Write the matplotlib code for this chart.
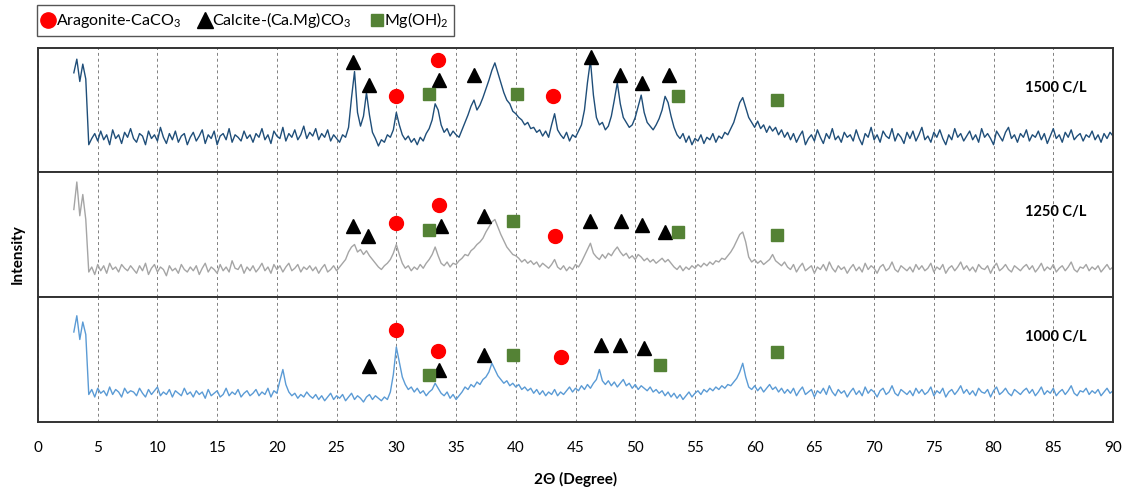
import matplotlib.pyplot as plt
import numpy as np
from matplotlib.lines import Line2D

plt.rcParams['font.family'] = ['Lato', 'DejaVu Sans']
plt.rcParams['mathtext.fontset'] = 'custom'
plt.rcParams['mathtext.rm'] = 'Lato'

# 2theta sampling of the hand-read patterns: 3.0 .. 90.0 every 0.25 deg
x_start = 3.0
x_step = 0.25

# 1500 C/L (panel units 0-100)
i_1500 = [
    80, 91, 73, 87, 75, 22, 27, 31, 25, 33, 26, 30, 22, 34, 27, 30, 23, 32, 28, 35,
    27, 24, 31, 29, 22, 33, 27, 30, 25, 36, 28, 23, 31, 26, 33, 24, 29, 31, 22, 28,
    32, 25, 29, 34, 23, 30, 27, 33, 22, 29, 31, 26, 35, 24, 30, 28, 25, 33, 27, 30,
    24, 31, 28, 35, 26, 30, 23, 33, 29, 27, 36, 25, 31, 28, 34, 26, 30, 37, 27, 32,
    29, 35, 26, 31, 28, 34, 25, 30, 27, 24, 30, 28, 36, 60, 81, 48, 37, 45, 64, 46,
    32, 27, 21, 26, 24, 30, 28, 34, 48, 38, 30, 26, 29, 24, 27, 22, 28, 25, 31, 35,
    42, 55, 50, 38, 32, 35, 29, 33, 30, 28, 34, 40, 46, 53, 58, 50, 54, 60, 67, 74,
    82, 88, 80, 72, 64, 58, 55, 49, 47, 44, 42, 38, 40, 35, 36, 32, 34, 29, 33, 28,
    38, 47, 34, 30, 27, 32, 25, 30, 28, 33, 38, 50, 72, 90, 62, 44, 38, 40, 34, 37,
    45, 58, 72, 55, 44, 40, 36, 38, 44, 53, 62, 48, 40, 37, 34, 38, 43, 50, 61, 56,
    45, 36, 30, 27, 31, 24, 29, 22, 27, 25, 30, 23, 28, 26, 31, 24, 29, 27, 32, 30,
    35, 40, 48, 56, 60, 52, 44, 40, 36, 41, 35, 38, 32, 37, 33, 36, 30, 34, 28, 32,
    26, 31, 24, 29, 33, 22, 27, 30, 25, 34, 28, 23, 31, 27, 35, 26, 29, 24, 32, 28,
    30, 25, 34, 27, 22, 31, 28, 36, 26, 30, 24, 33, 29, 27, 35, 25, 31, 28, 23, 32,
    27, 33, 25, 30, 36, 26, 29, 24, 32, 28, 34, 27, 22, 30, 26, 35, 28, 31, 25, 29,
    33, 26, 30, 24, 35, 28, 31, 27, 22, 33, 29, 25, 32, 36, 27, 30, 24, 31, 28, 34,
    25, 30, 28, 33, 26, 31, 23, 29, 35, 27, 30, 24, 32, 28, 34, 26, 29, 31, 25, 30,
    28, 33, 26, 30, 24, 31, 27, 32, 29,
]

# 1250 C/L
i_1250 = [
    70, 92, 65, 82, 62, 20, 24, 18, 26, 21, 25, 19, 27, 22, 24, 20, 26, 23, 21, 25,
    22, 19, 25, 21, 27, 18, 23, 26, 20, 24, 22, 17, 25, 21, 23, 19, 26, 22, 20, 24,
    21, 25, 18, 23, 27, 20, 24, 22, 19, 26, 21, 24, 20, 29, 23, 22, 26, 19, 24, 21,
    25, 20, 23, 27, 21, 24, 19, 26, 22, 25, 20, 24, 27, 21, 23, 26, 20, 24, 22, 25,
    21, 24, 19, 23, 26, 20, 22, 25, 21, 24, 27, 30, 36, 40, 42, 36, 38, 34, 37, 33,
    30, 27, 24, 22, 25, 27, 30, 35, 42, 34, 27, 23, 25, 21, 24, 22, 26, 23, 27, 30,
    34, 40, 33, 27, 25, 28, 24, 27, 26, 29, 31, 34, 33, 37, 39, 42, 44, 47, 52, 56,
    60, 62, 56, 50, 45, 40, 37, 34, 33, 31, 28, 30, 27, 29, 26, 28, 24, 27, 25, 23,
    26, 30, 24, 22, 25, 21, 24, 22, 26, 24, 28, 33, 38, 43, 35, 32, 30, 34, 31, 35,
    33, 37, 40, 36, 33, 35, 31, 33, 30, 34, 32, 29, 31, 28, 30, 27, 29, 31, 28, 30,
    27, 24, 22, 25, 21, 24, 22, 25, 23, 26, 24, 27, 25, 28, 26, 29, 28, 31, 30, 33,
    36, 40, 45, 50, 52, 44, 32, 28, 30, 27, 29, 26, 28, 30, 34, 29, 27, 25, 28, 24,
    22, 26, 20, 24, 27, 21, 23, 25, 19, 24, 22, 26, 21, 28, 23, 20, 25, 22, 24, 19,
    23, 26, 21, 24, 20, 27, 22, 25, 23, 19, 24, 26, 21, 23, 28, 22, 20, 25, 23, 21,
    24, 20, 26, 22, 25, 21, 23, 27, 20, 24, 22, 26, 19, 23, 25, 21, 24, 28, 22, 25,
    21, 24, 20, 26, 23, 22, 25, 19, 24, 27, 21, 23, 26, 22, 20, 25, 23, 21, 24, 26,
    22, 25, 20, 23, 27, 21, 24, 22, 26, 20, 23, 25, 21, 24, 28, 22, 20, 24, 23, 26,
    21, 24, 22, 25, 20, 23, 26, 22, 24,
]

# 1000 C/L
i_1000 = [
    72, 85, 66, 80, 70, 22, 26, 20, 27, 23, 25, 21, 28, 22, 26, 24, 20, 27, 23, 25,
    24, 21, 27, 23, 20, 26, 22, 25, 28, 21, 24, 22, 26, 20, 25, 23, 21, 27, 22, 24,
    20, 25, 22, 24, 19, 26, 21, 23, 25, 20, 22, 27, 21, 24, 22, 26, 20, 23, 25, 21,
    23, 26, 21, 24, 22, 27, 20, 25, 23, 33, 42, 30, 24, 21, 23, 19, 22, 20, 24, 21,
    19, 22, 18, 21, 17, 20, 23, 18, 21, 19, 22, 17, 20, 23, 18, 21, 19, 16, 20, 22,
    18, 21, 19, 17, 20, 18, 24, 38, 60, 48, 36, 30, 26, 28, 24, 27, 23, 25, 21, 24,
    26, 31, 27, 23, 21, 24, 19, 22, 18, 21, 24, 28, 26, 30, 28, 32, 30, 34, 36, 40,
    47, 42, 37, 34, 31, 33, 29, 31, 28, 30, 26, 28, 25, 27, 23, 26, 22, 25, 21, 24,
    22, 26, 21, 24, 22, 25, 28, 24, 27, 25, 29, 26, 30, 27, 31, 34, 42, 33, 30, 33,
    29, 32, 28, 31, 34, 29, 31, 27, 30, 26, 29, 27, 25, 28, 24, 26, 23, 25, 21, 24,
    20, 23, 19, 22, 18, 21, 24, 20, 23, 25, 22, 26, 24, 27, 25, 28, 26, 29, 27, 30,
    29, 32, 35, 40, 47, 36, 28, 26, 29, 25, 28, 24, 27, 30, 26, 28, 24, 27, 23, 26,
    23, 27, 21, 25, 28, 22, 24, 26, 20, 25, 23, 27, 22, 29, 24, 21, 26, 23, 25, 20,
    24, 27, 22, 25, 21, 28, 23, 26, 24, 20, 25, 27, 22, 24, 29, 23, 21, 26, 24, 22,
    25, 21, 27, 23, 26, 22, 24, 28, 21, 25, 23, 27, 20, 24, 26, 22, 25, 29, 23, 26,
    22, 25, 21, 27, 24, 23, 26, 20, 25, 28, 22, 24, 27, 23, 21, 26, 24, 22, 25, 27,
    23, 26, 21, 24, 28, 22, 25, 23, 27, 21, 24, 26, 22, 25, 29, 23, 21, 25, 24, 27,
    22, 25, 23, 26, 21, 24, 27, 23, 25,
]

# phase markers per panel: (2theta, height)
arag_1500 = [(30.0, 61), (33.5, 90), (43.1, 61)]
calc_1500 = [(26.4, 89), (27.7, 70), (33.6, 74), (36.5, 78), (46.3, 93),
             (48.7, 78), (50.6, 72), (52.8, 78)]
mgoh_1500 = [(32.7, 63), (40.1, 63), (53.6, 61), (61.9, 58)]

arag_1250 = [(30.0, 59), (33.6, 74), (43.3, 49)]
calc_1250 = [(26.4, 57), (27.6, 49), (33.7, 57), (37.3, 65), (46.2, 61),
             (48.8, 61), (50.6, 58), (52.5, 52)]
mgoh_1250 = [(32.7, 54), (39.8, 61), (53.6, 52), (61.9, 50)]

arag_1000 = [(30.0, 74), (33.5, 57), (43.8, 52)]
calc_1000 = [(27.7, 45), (33.6, 42), (37.3, 54), (47.1, 62), (48.7, 62), (50.7, 59)]
mgoh_1000 = [(32.7, 38), (39.8, 54), (52.1, 46), (61.9, 56)]

panels = [
    ('1500 C/L', i_1500, '#1f4e79', arag_1500, calc_1500, mgoh_1500),
    ('1250 C/L', i_1250, '#a5a5a5', arag_1250, calc_1250, mgoh_1250),
    ('1000 C/L', i_1000, '#5b9bd5', arag_1000, calc_1000, mgoh_1000),
]

red = '#ff0000'
green = '#548235'

fig = plt.figure(figsize=(11.26, 4.88), dpi=100)
left, width = 38 / 1126, 1075 / 1126
tops = [48, 172, 297]
heights = [124, 125, 125]

axes = []
for (label, vals, col, arag, calc, mgoh), top, h in zip(panels, tops, heights):
    ax = fig.add_axes([left, 1 - (top + h) / 488, width, h / 488])
    x = x_start + x_step * np.arange(len(vals))
    ax.plot(x, vals, color=col, lw=1.0)
    ax.plot([p[0] for p in arag], [p[1] for p in arag], 'o', color=red, ms=10)
    ax.plot([p[0] for p in calc], [p[1] for p in calc], '^', color='black', ms=10)
    ax.plot([p[0] for p in mgoh], [p[1] for p in mgoh], 's', color=green, ms=8.5)
    ax.text(0.975, 0.68, label, transform=ax.transAxes, ha='right', va='center',
            fontsize=10.5, fontweight='bold')
    ax.set_xlim(0, 90)
    ax.set_ylim(0, 100)
    ax.set_xticks(range(0, 91, 5))
    ax.set_yticks([])
    ax.grid(axis='x', linestyle=(0, (3, 3)), color='#808080', lw=0.7)
    ax.set_axisbelow(True)
    ax.tick_params(axis='x', length=0, labelsize=11, pad=14)
    for s in ax.spines.values():
        s.set_color('#333333')
        s.set_linewidth(1.4)
    axes.append(ax)

for ax in axes[:-1]:
    ax.tick_params(labelbottom=False)

axes[-1].set_xlabel('2Θ (Degree)', fontsize=11, fontweight='bold', labelpad=12)
fig.text(0.016, 0.48, 'Intensity', rotation=90, ha='center', va='center',
         fontsize=11, fontweight='bold')

handles = [
    Line2D([], [], marker='o', color=red, ls='none', ms=11),
    Line2D([], [], marker='^', color='black', ls='none', ms=11),
    Line2D([], [], marker='s', color=green, ls='none', ms=9),
]
names = ['Aragonite-CaCO$\\mathregular{_3}$', 'Calcite-(Ca.Mg)CO$\\mathregular{_3}$',
         'Mg(OH)$\\mathregular{_2}$']
leg = fig.legend(handles, names, loc='upper left', bbox_to_anchor=(0.033, 0.99),
                 borderaxespad=0, ncol=3, fontsize=11.5, handlelength=0.7,
                 handletextpad=0.1, columnspacing=1.2, borderpad=0.35,
                 fancybox=False, framealpha=1)
leg.get_frame().set_edgecolor('#555555')
leg.get_frame().set_linewidth(1.0)

fig.savefig('out.png', dpi=100)
